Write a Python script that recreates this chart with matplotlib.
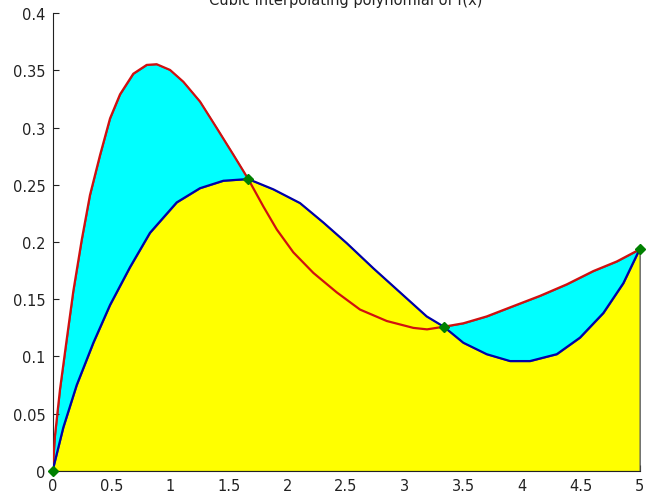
import matplotlib
matplotlib.use("Agg")
import matplotlib.pyplot as plt

# red curve f(x)
f_x = [0, 0.021, 0.064, 0.121, 0.177, 0.249, 0.319, 0.405, 0.49, 0.575, 0.688,
       0.802, 0.887, 1.001, 1.114, 1.256, 1.399, 1.54, 1.667, 1.796, 1.91, 2.051,
       2.222, 2.421, 2.619, 2.847, 3.073, 3.19, 3.333, 3.499, 3.698, 3.925, 4.153,
       4.38, 4.606, 4.806, 5.0]
f_y = [0, 0.031, 0.0715, 0.115, 0.157, 0.202, 0.241, 0.276, 0.308, 0.329, 0.347,
       0.3547, 0.3553, 0.3503, 0.340, 0.3227, 0.2995, 0.2763, 0.255, 0.231, 0.211, 0.191,
       0.173, 0.156, 0.141, 0.131, 0.125, 0.1237, 0.126, 0.129, 0.135, 0.144, 0.153,
       0.163, 0.1746, 0.183, 0.1935]

# blue curve p(x), interpolating polynomial
p_x = [0, 0.092, 0.206, 0.348, 0.49, 0.66, 0.83, 1.058, 1.256, 1.455, 1.667, 1.881,
       2.108, 2.307, 2.506, 2.733, 2.96, 3.187, 3.333, 3.499, 3.698, 3.897, 4.067,
       4.295, 4.493, 4.692, 4.862, 5.0]
p_y = [0, 0.038, 0.075, 0.112, 0.145, 0.178, 0.208, 0.2346, 0.247, 0.2535, 0.255, 0.246,
       0.234, 0.217, 0.199, 0.177, 0.156, 0.135, 0.126, 0.112, 0.102, 0.096, 0.096,
       0.102, 0.1165, 0.138, 0.164, 0.1935]

# interpolation nodes
node_x = [0, 1.667, 3.333, 5.0]
node_y = [0, 0.255, 0.126, 0.1935]

xticks = [0, 0.5, 1, 1.5, 2, 2.5, 3, 3.5, 4, 4.5, 5]
xlabels = ["0", "0.5", "1", "1.5", "2", "2.5", "3", "3.5", "4", "4.5", "5"]
yticks = [0, 0.05, 0.1, 0.15, 0.2, 0.25, 0.3, 0.35, 0.4]
ylabels = ["0", "0.05", "0.1", "0.15", "0.2", "0.25", "0.3", "0.35", "0.4"]

fig = plt.figure(figsize=(6.46, 5.02), dpi=100)
ax = fig.add_axes([0.0813, 0.0598, 0.9087, 0.9122])

ax.fill_between(f_x, 0, f_y, facecolor="#00ffff", edgecolor="0.35", lw=0.8, zorder=1)
ax.fill_between(p_x, 0, p_y, facecolor="#ffff00", edgecolor="0.35", lw=0.8, zorder=2)
ax.plot(f_x, f_y, color="#d01010", lw=1.6, zorder=3, solid_joinstyle="round")
ax.plot(p_x, p_y, color="#0000a8", lw=1.6, zorder=4, solid_joinstyle="round")
ax.plot(node_x, node_y, "D", color="#008000", ms=5.5, zorder=5, clip_on=False)

ax.set_xlim(0, 5)
ax.set_ylim(0, 0.4)
ax.set_xticks(xticks)
ax.set_xticklabels(xlabels)
ax.set_yticks(yticks)
ax.set_yticklabels(ylabels)
ax.tick_params(direction="in", length=4, labelsize=10.5, colors="#222222", pad=5)
ax.spines["top"].set_visible(False)
ax.spines["right"].set_visible(False)
for s in ("left", "bottom"):
    ax.spines[s].set_color("#222222")

# title sits mostly above the top edge of the picture, as in the original
fig.text(0.535, 0.991, "Cubic interpolating polynomial of f(x)", ha="center",
         va="baseline", fontsize=10.5, color="#222222")

fig.savefig("out.png", dpi=100)
